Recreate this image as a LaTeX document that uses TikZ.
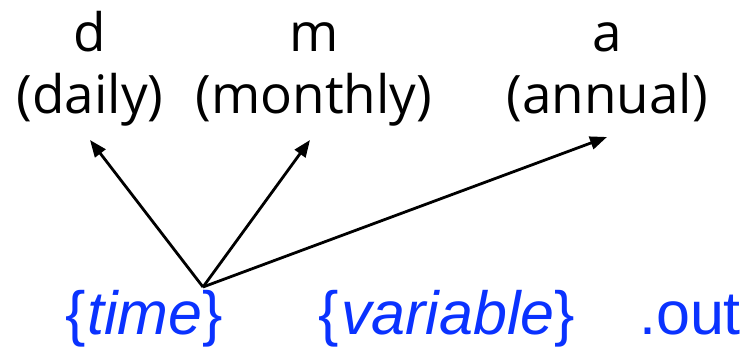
\documentclass[tikz,border=0pt]{standalone}
\usepackage{fontspec}
\newfontfamily\blkfont{Open Sans}
\newfontfamily\arialfont{Liberation Sans}
\usetikzlibrary{arrows.meta}
\definecolor{blu}{RGB}{10,50,255}
\begin{document}
\begin{tikzpicture}[x=1pt,y=-1pt,
  lbl/.style={font=\blkfont\fontsize{53}{58}\selectfont, inner sep=0pt, anchor=base},
  fname/.style={font=\arialfont\fontsize{61}{66}\selectfont, text=blu, inner sep=0pt, anchor=base},
  arr/.style={-{Triangle[length=17pt,width=13pt]}, line width=2.8pt, black}]
\useasboundingbox (0,0) rectangle (748,349);
\node[lbl] (d) at (90,51) {d};
\node[lbl] (daily) at (90,113) {(daily)};
\node[lbl] (m) at (314,51) {m};
\node[lbl] (monthly) at (314,113) {(monthly)};
\node[lbl] (a) at (607,51) {a};
\node[lbl] (annual) at (607,113) {(annual)};
\node[fname] (time) at (144,334) {\{\kern2pt\textit{time}\}};
\node[fname] (var) at (447,334) {\{\kern2pt\textit{variable}\}};
\node[fname] (out) at (690,334) {.out};
\coordinate (src) at (203,287);
\coordinate (tipD) at (90,140);
\coordinate (tipM) at (310,140);
\coordinate (tipA) at (607,137);
\draw[arr] (src) -- (tipD);
\draw[arr] (src) -- (tipM);
\draw[arr] (src) -- (tipA);
\end{tikzpicture}
\end{document}
